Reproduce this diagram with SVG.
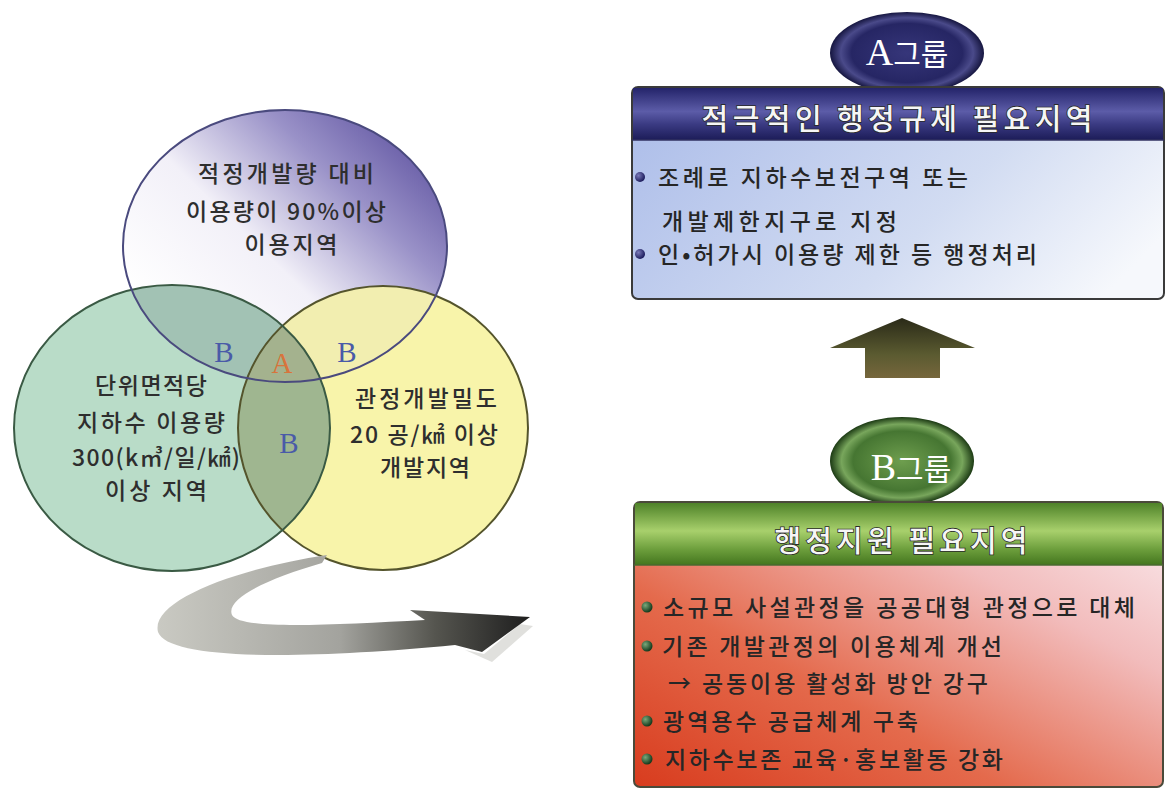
<svg xmlns="http://www.w3.org/2000/svg" width="1167" height="790" viewBox="0 0 1167 790">
<style>
.vt{font-family:"Noto Sans CJK KR","Noto Sans",sans-serif;font-size:23px;font-weight:500;fill:#2e2e2e;text-anchor:middle}
.lt{font-family:"Liberation Serif",serif;font-size:29px;text-anchor:middle}
.bt{font-family:"Noto Sans CJK KR","Noto Sans",sans-serif;font-size:23px;font-weight:500;fill:#262626}
.ht{font-family:"Noto Sans CJK KR","Noto Sans",sans-serif;font-size:29px;font-weight:500;fill:#f6f6f6;text-anchor:middle;stroke:#2a2a2a;stroke-width:1.6px;paint-order:stroke}
.gt{font-family:"Noto Sans CJK KR",sans-serif;font-size:30px;fill:#ffffff;text-anchor:middle}
.gl{font-family:"Liberation Serif",serif;font-size:38px}
</style>
<defs>
<linearGradient id="gTop" x1="0.15" y1="0.8" x2="0.9" y2="0.15">
<stop offset="0" stop-color="#ffffff"/><stop offset="0.4" stop-color="#f2f0f8"/><stop offset="0.75" stop-color="#9a92c8"/><stop offset="1" stop-color="#6a5fa8"/>
</linearGradient>
<linearGradient id="gArrow" x1="150" y1="0" x2="530" y2="0" gradientUnits="userSpaceOnUse">
<stop offset="0" stop-color="#cbcbc4"/><stop offset="0.5" stop-color="#a3a39e"/><stop offset="0.75" stop-color="#55554f"/><stop offset="1" stop-color="#1e1e1e"/>
</linearGradient>
<radialGradient id="gA" cx="0.5" cy="0.5" r="0.5">
<stop offset="0" stop-color="#36367a"/><stop offset="0.72" stop-color="#262664"/><stop offset="0.86" stop-color="#4a4a8a"/><stop offset="1" stop-color="#161640"/>
</radialGradient>
<radialGradient id="gB" cx="0.5" cy="0.5" r="0.5">
<stop offset="0" stop-color="#6e9e4e"/><stop offset="0.68" stop-color="#467632"/><stop offset="0.84" stop-color="#78a65c"/><stop offset="1" stop-color="#1c3a14"/>
</radialGradient>
<linearGradient id="gHA" x1="0" y1="0" x2="0" y2="1">
<stop offset="0" stop-color="#24246a"/><stop offset="0.45" stop-color="#5c5ca8"/><stop offset="0.7" stop-color="#3a3a82"/><stop offset="1" stop-color="#1c1c58"/>
</linearGradient>
<linearGradient id="gBA" x1="0" y1="0.3" x2="1" y2="0.7">
<stop offset="0" stop-color="#b0c0ea"/><stop offset="0.6" stop-color="#d2dcf2"/><stop offset="1" stop-color="#f6f8fc"/>
</linearGradient>
<linearGradient id="gHB" x1="0" y1="0" x2="0" y2="1">
<stop offset="0" stop-color="#4e8228"/><stop offset="0.45" stop-color="#a8d06c"/><stop offset="0.75" stop-color="#6c9e3c"/><stop offset="1" stop-color="#44761e"/>
</linearGradient>
<linearGradient id="gBB" x1="0" y1="1" x2="1" y2="0">
<stop offset="0" stop-color="#d83c1e"/><stop offset="0.35" stop-color="#e46a4c"/><stop offset="0.7" stop-color="#f2bcbc"/><stop offset="1" stop-color="#fbeef2"/>
</linearGradient>
<linearGradient id="gUp" x1="0" y1="0" x2="0" y2="1">
<stop offset="0" stop-color="#2a2a18"/><stop offset="0.6" stop-color="#5a5a30"/><stop offset="1" stop-color="#76663c"/>
</linearGradient>
<radialGradient id="dotA" cx="0.35" cy="0.35" r="0.65">
<stop offset="0" stop-color="#7a7ab8"/><stop offset="1" stop-color="#1e1e5e"/>
</radialGradient>
<radialGradient id="dotB" cx="0.35" cy="0.35" r="0.65">
<stop offset="0" stop-color="#7aa87a"/><stop offset="1" stop-color="#143a1c"/>
</radialGradient>
<clipPath id="cGreen"><ellipse cx="172" cy="428" rx="158" ry="143"/></clipPath>
<clipPath id="cTop"><ellipse cx="285" cy="246" rx="162" ry="136"/></clipPath>
</defs>

<g id="venn">
<ellipse cx="383" cy="428" rx="145" ry="142" fill="#f8f4aa"/>
<ellipse cx="172" cy="428" rx="158" ry="143" fill="#b9dcc8"/>
<ellipse cx="285" cy="246" rx="162" ry="136" fill="url(#gTop)"/>
<ellipse cx="172" cy="428" rx="158" ry="143" fill="#a2c2b4" clip-path="url(#cTop)"/>
<ellipse cx="383" cy="428" rx="145" ry="142" fill="#f2eeb0" clip-path="url(#cTop)"/>
<ellipse cx="383" cy="428" rx="145" ry="142" fill="#9fb690" clip-path="url(#cGreen)"/>
<g clip-path="url(#cTop)"><ellipse cx="383" cy="428" rx="145" ry="142" fill="#a4b28e" clip-path="url(#cGreen)"/></g>
<ellipse cx="383" cy="428" rx="145" ry="142" fill="none" stroke="#54542c" stroke-width="2"/>
<ellipse cx="172" cy="428" rx="158" ry="143" fill="none" stroke="#3a5a44" stroke-width="2"/>
<ellipse cx="285" cy="246" rx="162" ry="136" fill="none" stroke="#4a4a7e" stroke-width="2"/>
</g>

<g id="top-set">
<text class="vt" x="286" y="182" textLength="176">적정개발량 대비</text>
<text class="vt" x="286" y="220" textLength="200">이용량이 90%이상</text>
<text class="vt" x="291" y="253" textLength="93">이용지역</text>
</g>
<g id="left-set">
<text class="vt" x="151" y="394" textLength="112">단위면적당</text>
<text class="vt" x="151" y="431" textLength="148">지하수 이용량</text>
<text class="vt" x="156" y="466" textLength="168">300(k㎥/일/㎢)</text>
<text class="vt" x="156" y="499" textLength="102">이상 지역</text>
</g>
<g id="right-set">
<text class="vt" x="426" y="407" textLength="142">관정개발밀도</text>
<text class="vt" x="424" y="443" textLength="148">20 공/㎢ 이상</text>
<text class="vt" x="425" y="476" textLength="90">개발지역</text>
</g>
<g id="labels">
<text class="lt" x="224" y="362" fill="#4a5aa8">B</text>
<text class="lt" x="282" y="373" fill="#d8743c">A</text>
<text class="lt" x="347" y="362" fill="#4a5aa8">B</text>
<text class="lt" x="289" y="453" fill="#4a5aa8">B</text>
</g>

<g id="connectors">
<path d="M 465 650 L 492 662 L 533 626 L 520 624 L 484 654 Z" fill="#d8d8d4" opacity="0.8"/>
<path d="M 327 555 C 240 568, 150 600, 158 632 C 168 660, 300 660, 455 645 L 482 652 L 530 617 L 410 610 L 425 620 C 330 625, 240 630, 232 615 C 225 598, 270 578, 322 563 Z" fill="url(#gArrow)"/>
<g id="up-arrow">
<path d="M 902 318 L 975 348 L 940 348 L 940 378 L 865 378 L 865 348 L 830 348 Z" fill="url(#gUp)"/>
</g>
</g>

<g id="groupA">
<ellipse cx="907" cy="53" rx="77" ry="41" fill="url(#gA)"/>
<text class="gt" x="907" y="65"><tspan class="gl">A</tspan>그룹</text>
</g>
<g id="boxA">
<rect x="632" y="87" width="532" height="212" rx="6" fill="url(#gBA)" stroke="#3a3a3a" stroke-width="2"/>
<rect x="633" y="88" width="530" height="52" fill="url(#gHA)"/>
<line x1="632" y1="140" x2="1164" y2="140" stroke="#303060" stroke-width="1.5"/>
<text class="ht" x="897" y="130" textLength="391">적극적인 행정규제 필요지역</text>
<circle cx="640" cy="177" r="5" fill="url(#dotA)"/>
<circle cx="640" cy="254" r="5" fill="url(#dotA)"/>
<text class="bt" x="658" y="186" textLength="310">조례로 지하수보전구역 또는</text>
<text class="bt" x="662" y="230" textLength="235">개발제한지구로 지정</text>
<text class="bt" x="658" y="263" textLength="379">인•허가시 이용량 제한 등 행정처리</text>
</g>

<g id="groupB">
<ellipse cx="902" cy="461" rx="72" ry="44" fill="url(#gB)"/>
<text class="gt" x="911" y="480"><tspan class="gl">B</tspan>그룹</text>
</g>
<g id="boxB">
<rect x="634" y="502" width="529" height="285" rx="6" fill="url(#gBB)" stroke="#4a4a3a" stroke-width="2"/>
<rect x="635" y="503" width="527" height="62" fill="url(#gHB)"/>
<line x1="634" y1="565" x2="1163" y2="565" stroke="#4a6a30" stroke-width="1.5"/>
<text class="ht" x="901" y="552" textLength="253">행정지원 필요지역</text>
<circle cx="647" cy="607" r="5.5" fill="url(#dotB)"/>
<circle cx="647" cy="646" r="5.5" fill="url(#dotB)"/>
<circle cx="647" cy="721" r="5.5" fill="url(#dotB)"/>
<circle cx="647" cy="759" r="5.5" fill="url(#dotB)"/>
<text class="bt" x="663" y="616" textLength="472">소규모 사설관정을 공공대형 관정으로 대체</text>
<text class="bt" x="662" y="655" textLength="340">기존 개발관정의 이용체계 개선</text>
<text class="bt" x="668" y="692" textLength="320">→ 공동이용 활성화 방안 강구</text>
<text class="bt" x="663" y="730" textLength="255">광역용수 공급체계 구축</text>
<text class="bt" x="665" y="768" textLength="338">지하수보존 교육·홍보활동 강화</text>
</g>
</svg>
